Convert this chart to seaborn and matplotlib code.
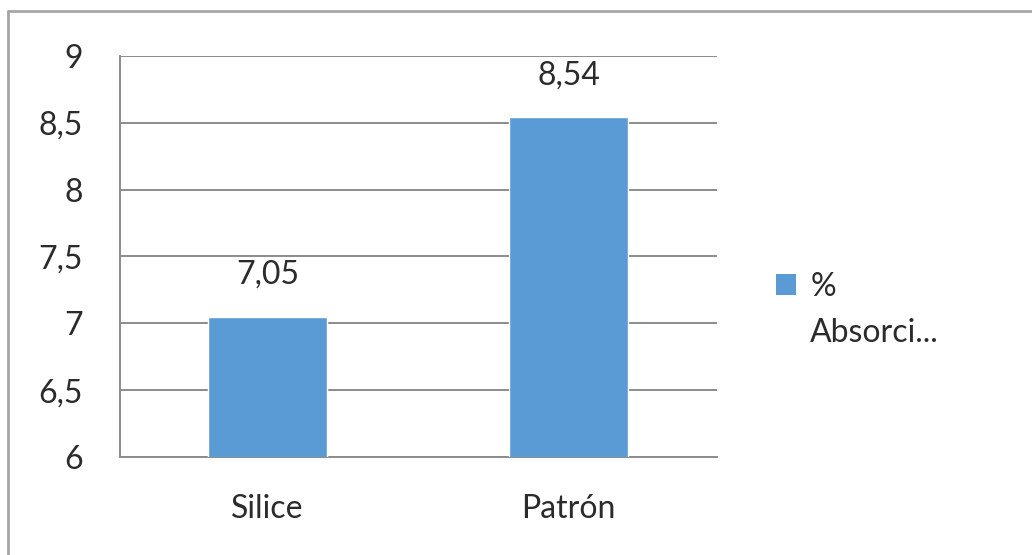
import matplotlib
matplotlib.use("Agg")
import matplotlib.pyplot as plt
from matplotlib.patches import Patch
from matplotlib.lines import Line2D
from matplotlib.ticker import FuncFormatter, MultipleLocator
import seaborn as sns
import pandas as pd

# Data
categories = ["Silice", "Patrón"]
absorcion = [7.05, 8.54]
series_label = ["%", "Absorci..."]

df = pd.DataFrame({"material": categories, "absorcion": absorcion})

sns.set_theme(style="white")
plt.rcParams["font.family"] = ["Lato", "DejaVu Sans"]

bar_color = "#5B9BD5"
grid_color = "#8C8C8C"
text_color = "#2B2B2B"
fs = 23

fig = plt.figure(figsize=(10.32, 5.55), dpi=100)
ax = fig.add_axes([0.1163, 0.1766, 0.5785, 0.7225])

sns.barplot(data=df, x="material", y="absorcion", color=bar_color,
            saturation=1, width=0.395, ax=ax, zorder=3)

ax.set_ylim(6, 9)
ax.set_xlim(-0.49, 1.493)
ax.yaxis.set_major_locator(MultipleLocator(0.5))
ax.yaxis.set_major_formatter(FuncFormatter(lambda v, p: f"{v:g}".replace(".", ",")))
ax.grid(axis="y", color=grid_color, linewidth=1.4, zorder=0)
ax.set_axisbelow(True)

for side in ["top", "right"]:
    ax.spines[side].set_visible(False)
for side in ["left", "bottom"]:
    ax.spines[side].set_color(grid_color)
    ax.spines[side].set_linewidth(1.4)

ax.set_xlabel("")
ax.set_ylabel("")
ax.tick_params(axis="y", length=0, pad=27, labelsize=fs, labelcolor=text_color)
ax.tick_params(axis="x", length=0, pad=27, labelsize=fs, labelcolor=text_color)

# Value labels above the bars
for i, v in enumerate(absorcion):
    ax.annotate(f"{v:.2f}".replace(".", ","), xy=(i, v), xytext=(0, 30),
                textcoords="offset points", ha="center", va="center",
                fontsize=fs, color=text_color)

# Legend: swatch next to the first line, label wraps onto a second line
handle = Patch(facecolor=bar_color, edgecolor="none")
leg = fig.legend([handle], [series_label[0]], loc="center left",
                 bbox_to_anchor=(0.752, 1 - 287 / 555), frameon=False,
                 fontsize=fs, handlelength=0.62, handleheight=0.62,
                 handletextpad=0.45, labelcolor=text_color,
                 borderpad=0, borderaxespad=0)
fig.canvas.draw()
bb = leg.get_texts()[0].get_window_extent().transformed(fig.transFigure.inverted())
fig.text(bb.x0, bb.y0 - 16 / 555, series_label[1], ha="left", va="top",
         fontsize=fs, color=text_color)

# Chart area border (top and left edges)
border = "#A6A6A6"
fig.add_artist(Line2D([8 / 1032, 1.0], [1 - 11 / 555, 1 - 11 / 555],
                      transform=fig.transFigure, color=border, linewidth=2))
fig.add_artist(Line2D([8 / 1032, 8 / 1032], [0.0, 1 - 11 / 555],
                      transform=fig.transFigure, color=border, linewidth=2))

fig.savefig("out.png", dpi=100, facecolor="white")
